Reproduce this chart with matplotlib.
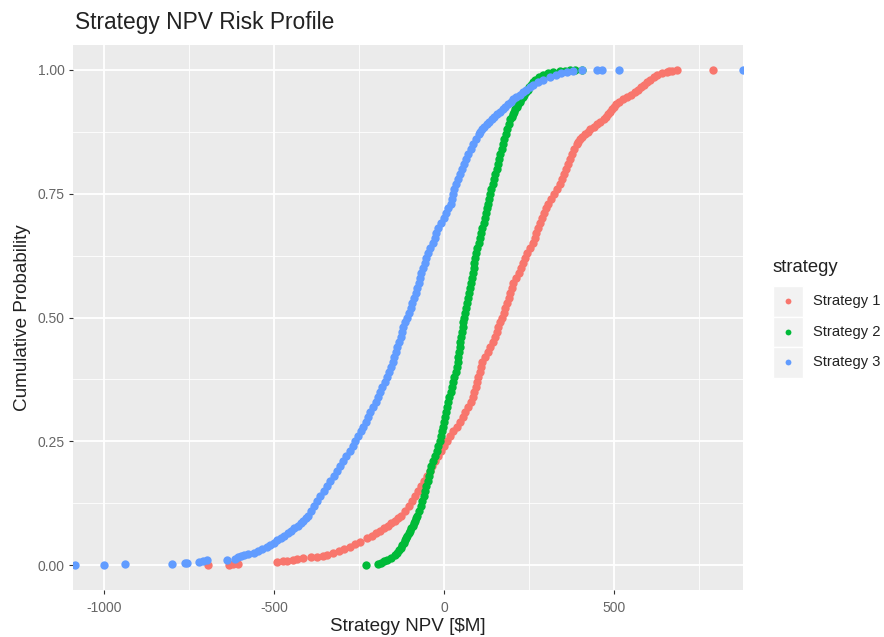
import matplotlib
matplotlib.use("Agg")
import matplotlib.pyplot as plt
from matplotlib.patches import Rectangle
from matplotlib.lines import Line2D
from matplotlib.ticker import MultipleLocator

plt.rcParams['font.family'] = ['Liberation Sans', 'DejaVu Sans']
plt.rcParams['axes.unicode_minus'] = False

STRATEGIES = ["Strategy 1", "Strategy 2", "Strategy 3"]
COLORS = ["#F8766D", "#00BA38", "#619CFF"]

# shared probability levels for the body of each curve
BODY_PROB = [0.10,
             0.11, 0.12, 0.13, 0.14, 0.15, 0.16, 0.17, 0.18, 0.19, 0.20,
             0.21, 0.22, 0.23, 0.24, 0.25, 0.26, 0.27, 0.28, 0.29, 0.30,
             0.31, 0.32, 0.33, 0.34, 0.35, 0.36, 0.37, 0.38, 0.39, 0.40,
             0.41, 0.42, 0.43, 0.44, 0.45, 0.46, 0.47, 0.48, 0.49, 0.50,
             0.51, 0.52, 0.53, 0.54, 0.55, 0.56, 0.57, 0.58, 0.59, 0.60,
             0.61, 0.62, 0.63, 0.64, 0.65, 0.66, 0.67, 0.68, 0.69, 0.70,
             0.71, 0.72, 0.73, 0.74, 0.75, 0.76, 0.77, 0.78, 0.79, 0.80,
             0.81, 0.82, 0.83, 0.84, 0.85, 0.86, 0.87, 0.88, 0.89, 0.90,
             0.91, 0.92, 0.93, 0.94, 0.95, 0.96, 0.97, 0.98, 0.99]

# Strategy 1
s1_low_npv = [-693, -631, -620, -607, -492, -475, -463, -445, -433, -414, -390,
              -374, -355, -345, -326, -310, -295, -276, -262, -247, -227, -213,
              -200, -189, -177, -165, -155, -145, -136]
s1_low_prob = [0.000, 0.001, 0.002, 0.003, 0.006, 0.008, 0.009, 0.011, 0.012,
               0.014, 0.016, 0.017, 0.019, 0.020, 0.024, 0.028, 0.032, 0.037,
               0.042, 0.047, 0.054, 0.060, 0.065, 0.070, 0.075, 0.080, 0.085,
               0.090, 0.095]
s1_body_npv = [-127,
               -115, -104, -94, -84, -76, -67, -58, -50, -42, -34,
               -26, -17, -9, 0, 9, 18, 27, 37, 46, 55,
               63, 71, 79, 84, 89, 93, 97, 101, 105, 109,
               113, 120, 128, 136, 145, 150, 155, 160, 164, 169,
               175, 180, 185, 190, 195, 199, 203, 211, 220, 226,
               231, 237, 245, 253, 261, 266, 271, 275, 282, 288,
               295, 301, 307, 315, 324, 333, 341, 347, 352, 358,
               363, 369, 375, 382, 390, 400, 415, 430, 450, 470,
               482, 494, 506, 525, 550, 570, 588, 606, 626]
s1_high_npv = [395, 407, 422, 440, 460, 476, 488, 500, 515, 537, 560, 579, 597,
               616, 640, 655, 662, 670, 684, 790]
s1_high_prob = [0.855, 0.865, 0.875, 0.885, 0.895, 0.905, 0.915, 0.925, 0.935,
                0.945, 0.955, 0.965, 0.975, 0.985, 0.993, 0.995, 0.997, 0.998,
                1.000, 1.000]

# Strategy 2
s2_low_npv = [-230, -193, -185, -176, -169, -157, -145, -139, -133, -128, -124,
              -119, -115, -111, -108, -104, -100, -96, -92, -88, -85, -82]
s2_low_prob = [0.001, 0.003, 0.005, 0.008, 0.010, 0.015, 0.020, 0.025, 0.030,
               0.035, 0.040, 0.045, 0.050, 0.055, 0.060, 0.065, 0.070, 0.075,
               0.080, 0.085, 0.090, 0.095]
s2_body_npv = [-79,
               -74, -69, -64, -60, -56, -52, -48, -45, -41, -37,
               -32, -27, -22, -17, -13, -9, -6, -3, 0, 4,
               7, 10, 13, 16, 19, 22, 26, 30, 34, 37,
               40, 42, 44, 46, 48, 50, 52, 55, 57, 60,
               63, 65, 67, 70, 72, 75, 78, 81, 84, 87,
               89, 92, 95, 98, 102, 105, 108, 112, 116, 120,
               124, 127, 130, 133, 136, 139, 143, 147, 151, 155,
               158, 161, 165, 169, 173, 177, 181, 186, 190, 195,
               203, 210, 218, 226, 236, 246, 257, 268, 290]
s2_high_npv = [199, 206, 214, 222, 231, 241, 251, 262, 279, 305, 321, 340, 355,
               370, 385, 405]
s2_high_prob = [0.905, 0.915, 0.925, 0.935, 0.945, 0.955, 0.965, 0.975, 0.985,
                0.993, 0.995, 0.997, 0.998, 0.999, 1.000, 1.000]

# Strategy 3
s3_low_npv = [-1085, -999, -938, -801, -762, -757, -720, -708, -698, -639, -615,
              -605, -598, -588, -575, -560, -548, -535, -522, -512, -500, -490,
              -480, -470, -460, -450, -440, -430, -422, -415, -407]
s3_low_prob = [0.000, 0.001, 0.002, 0.003, 0.004, 0.005, 0.006, 0.008, 0.010,
               0.011, 0.013, 0.016, 0.018, 0.020, 0.022, 0.025, 0.028, 0.032,
               0.036, 0.040, 0.045, 0.050, 0.055, 0.060, 0.065, 0.070, 0.075,
               0.080, 0.085, 0.090, 0.095]
s3_body_npv = [-400,
               -390, -381, -373, -364, -354, -345, -335, -325, -315, -305,
               -296, -287, -278, -269, -261, -252, -244, -237, -230, -224,
               -218, -210, -201, -194, -188, -182, -175, -169, -163, -157,
               -151, -146, -141, -137, -132, -128, -124, -120, -115, -109,
               -104, -98, -93, -88, -83, -79, -75, -71, -67, -62,
               -57, -52, -46, -40, -33, -28, -23, -17, -9, 0,
               7, 13, 19, 23, 26, 30, 34, 40, 46, 52,
               58, 64, 70, 78, 86, 94, 103, 112, 125, 140,
               156, 172, 188, 204, 222, 242, 263, 292, 330]
s3_high_npv = [107, 118, 132, 148, 164, 180, 196, 213, 232, 252, 277, 311, 345,
               361, 380, 405, 449, 464, 513, 879]
s3_high_prob = [0.875, 0.885, 0.895, 0.905, 0.915, 0.925, 0.935, 0.945, 0.955,
                0.965, 0.975, 0.985, 0.993, 0.995, 0.997, 0.999, 1.000, 1.000,
                1.000, 1.000]

series = [
    (s1_low_npv + s1_body_npv + s1_high_npv, s1_low_prob + BODY_PROB + s1_high_prob),
    (s2_low_npv + s2_body_npv + s2_high_npv, s2_low_prob + BODY_PROB + s2_high_prob),
    (s3_low_npv + s3_body_npv + s3_high_npv, s3_low_prob + BODY_PROB + s3_high_prob),
]

W, H = 884, 637
fig = plt.figure(figsize=(W / 100, H / 100), dpi=100)
ax = fig.add_axes([73 / W, 1 - 590 / H, 670 / W, 545 / H])
ax.set_facecolor("#EBEBEB")
for s in ax.spines.values():
    s.set_visible(False)

ax.set_xlim(-1091, 879)
ax.set_ylim(-0.05, 1.05)
ax.xaxis.set_major_locator(MultipleLocator(500))
ax.xaxis.set_minor_locator(MultipleLocator(250))
ax.yaxis.set_major_locator(MultipleLocator(0.25))
ax.yaxis.set_minor_locator(MultipleLocator(0.125))
ax.yaxis.set_major_formatter(lambda v, pos: "%.2f" % v)
ax.xaxis.set_major_formatter(lambda v, pos: "%d" % v)
ax.grid(which="major", color="white", linewidth=1.3)
ax.grid(which="minor", color="white", linewidth=0.6)
ax.set_axisbelow(True)
ax.tick_params(which="major", length=3, width=0.8, color="#333333",
               labelcolor="#666666", labelsize=10)
ax.tick_params(axis="x", pad=5)
ax.tick_params(axis="y", pad=3)
ax.tick_params(which="minor", length=0)

for (npv, prob), color in zip(series, COLORS):
    ax.scatter(npv, prob, s=36, color=color, linewidths=0, zorder=3)

ax.set_xlabel("Strategy NPV [$M]", fontsize=13.6, color="#222222", labelpad=2)
ax.set_ylabel("Cumulative Probability", fontsize=13.6, color="#222222", labelpad=5)
fig.text(75 / W, 1 - 22 / H, "Strategy NPV Risk Profile", fontsize=16.4,
         color="#222222", va="center", ha="left")

# legend, drawn in figure pixels
fig.text(773 / W, 1 - 268 / H, "strategy", fontsize=13.3, color="#222222",
         va="center", ha="left")
key_tops = [286, 316.5, 347]
for i, (name, color) in enumerate(zip(STRATEGIES, COLORS)):
    top = key_tops[i]
    fig.add_artist(Rectangle((773 / W, 1 - (top + 30.5) / H), 30 / W, 30.5 / H,
                             transform=fig.transFigure, facecolor="#F2F2F2",
                             edgecolor="white", linewidth=1))
    cy = 1 - (top + 15.25) / H
    fig.add_artist(Line2D([788 / W], [cy], transform=fig.transFigure,
                          marker="o", markersize=4.2, color=color,
                          markeredgewidth=0, linestyle="none"))
    fig.text(813 / W, cy, name, fontsize=10.6, color="#222222",
             va="center", ha="left")

fig.savefig("out.png", dpi=100)
